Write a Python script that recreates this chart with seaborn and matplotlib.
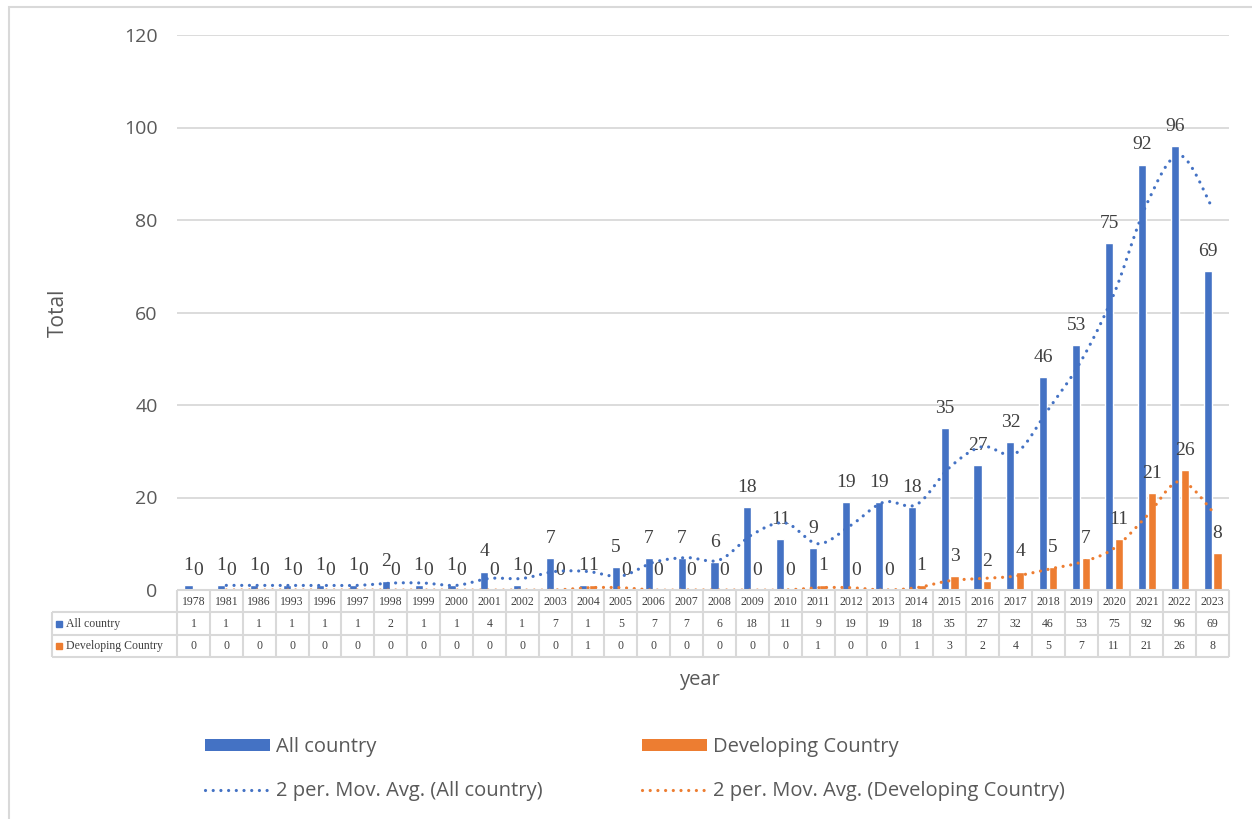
import numpy as np
import pandas as pd
import matplotlib
matplotlib.use("Agg")
import matplotlib.pyplot as plt
import seaborn as sns
from matplotlib.patches import Patch, Rectangle
from matplotlib.lines import Line2D

# ---- data -------------------------------------------------------------
years = ["1978", "1981", "1986", "1993", "1996", "1997", "1998", "1999",
         "2000", "2001", "2002", "2003", "2004", "2005", "2006", "2007",
         "2008", "2009", "2010", "2011", "2012", "2013", "2014", "2015",
         "2016", "2017", "2018", "2019", "2020", "2021", "2022", "2023"]
all_country = [1, 1, 1, 1, 1, 1, 2, 1, 1, 4, 1, 7, 1, 5, 7, 7,
               6, 18, 11, 9, 19, 19, 18, 35, 27, 32, 46, 53, 75, 92, 96, 69]
developing = [0, 0, 0, 0, 0, 0, 0, 0, 0, 0, 0, 0, 1, 0, 0, 0,
              0, 0, 0, 1, 0, 0, 1, 3, 2, 4, 5, 7, 11, 21, 26, 8]
series_names = ["All country", "Developing Country"]
y_ticks = [0, 20, 40, 60, 80, 100, 120]

BLUE = "#4472C4"
ORANGE = "#ED7D31"
GRID = "#D9D9D9"
TXT = "#595959"
LBL = "#404040"

W, H = 1252, 819

sns.set_theme(style="white")
plt.rcParams["font.family"] = ["Open Sans", "DejaVu Sans"]
SERIF = "Liberation Serif"

fig = plt.figure(figsize=(W / 100, H / 100), dpi=100)


def fx(px):
    return px / W


def fy(py):
    return 1 - py / H


# plot area in pixel terms
X0, X1, Y0, Y1 = 177, 1229, 35, 590
ax = fig.add_axes([fx(X0), fy(Y1), fx(X1 - X0), (Y1 - Y0) / H])

df = pd.DataFrame({
    "year": years * 2,
    "value": all_country + developing,
    "series": [series_names[0]] * len(years) + [series_names[1]] * len(years),
})

sns.barplot(data=df, x="year", y="value", hue="series", order=years,
            hue_order=series_names, palette=[BLUE, ORANGE], saturation=1,
            width=0.6, gap=0.18, legend=False, ax=ax, errorbar=None)

for cont in ax.containers:
    vals = [int(round(b.get_height())) for b in cont]
    ax.bar_label(cont, labels=[str(v) for v in vals], padding=8,
                 fontsize=14, family=SERIF, color=LBL)


# 2-period moving averages, drawn as smoothed curves
def moving_avg(v):
    v = np.asarray(v, dtype=float)
    return np.arange(1, len(v)), (v[1:] + v[:-1]) / 2


def catmull_rom(xs, ys, n=24):
    pts = np.column_stack([xs, ys])
    P = np.vstack([pts[0], pts, pts[-1]])
    out = []
    t = np.linspace(0, 1, n, endpoint=False)[:, None]
    for i in range(1, len(P) - 2):
        p0, p1, p2, p3 = P[i - 1], P[i], P[i + 1], P[i + 2]
        seg = 0.5 * ((2 * p1) + (-p0 + p2) * t
                     + (2 * p0 - 5 * p1 + 4 * p2 - p3) * t ** 2
                     + (-p0 + 3 * p1 - 3 * p2 + p3) * t ** 3)
        out.append(seg)
    out.append(P[-2][None])
    return np.vstack(out)


DOT = (0, (0.01, 2.4))
for vals, col in [(all_country, BLUE), (developing, ORANGE)]:
    mx, my = moving_avg(vals)
    curve = catmull_rom(mx, my)
    ax.plot(curve[:, 0], curve[:, 1], color=col, lw=2.3, linestyle=DOT,
            dash_capstyle="round", zorder=4)

ax.set_xlim(-0.5, len(years) - 0.5)
ax.set_ylim(0, 120)
ax.set_yticks(y_ticks)
ax.set_xticks([])
ax.set_xlabel("")
ax.set_ylabel("")
ax.yaxis.grid(True, color=GRID, lw=1.3)
ax.set_axisbelow(True)
for s in ax.spines.values():
    s.set_visible(False)
ax.tick_params(axis="y", length=0, pad=14, labelsize=14, labelcolor=TXT)

# ---- data table under the plot ---------------------------------------
TB = 657
tab = fig.add_axes([fx(X0), fy(TB), fx(X1 - X0), (TB - Y1) / H])
tab.set_xlim(-0.5, len(years) - 0.5)
tab.set_ylim(3, 0)
tab.axis("off")
cat_px = (X1 - X0) / len(years)
x_left = -0.5 - (X0 - 52) / cat_px

lk = dict(color=GRID, lw=1.5, clip_on=False, solid_capstyle="butt")
tab.plot([-0.5, len(years) - 0.5], [0, 0], **lk)
for r in (1, 2, 3):
    tab.plot([x_left, len(years) - 0.5], [r, r], **lk)
tab.plot([x_left, x_left], [1, 3], **lk)
for i in range(len(years) + 1):
    tab.plot([i - 0.5, i - 0.5], [0, 3], **lk)

tfont = dict(fontsize=8.5, family=SERIF, color=LBL, ha="center", va="center")
for i, yr in enumerate(years):
    tab.text(i, 0.52, yr, **tfont)
    tab.text(i, 1.52, str(all_country[i]), **tfont)
    tab.text(i, 2.52, str(developing[i]), **tfont)

for r, (name, col) in enumerate(zip(series_names, [BLUE, ORANGE])):
    tab.plot([x_left + 7 / cat_px], [r + 1.5], marker="s", ms=5, color=col,
             clip_on=False, ls="none")
    tab.text(x_left + 14 / cat_px, r + 1.52, name, fontsize=8.5, family=SERIF,
             color=LBL, ha="left", va="center")

# ---- axis titles ------------------------------------------------------
fig.text(fx(58), fy(313), "Total", rotation=90, fontsize=15, color=TXT,
         ha="center", va="center")
fig.text(fx(700), fy(680), "year", fontsize=14.5, color=TXT,
         ha="center", va="center")

# ---- legend -----------------------------------------------------------
handles = [
    Patch(facecolor=BLUE, edgecolor="none"),
    Line2D([], [], color=BLUE, lw=2.3, linestyle=DOT, dash_capstyle="round"),
    Patch(facecolor=ORANGE, edgecolor="none"),
    Line2D([], [], color=ORANGE, lw=2.3, linestyle=DOT, dash_capstyle="round"),
]
labels = ["All country", "2 per. Mov. Avg. (All country)",
          "Developing Country", "2 per. Mov. Avg. (Developing Country)"]
fig.legend(handles, labels, loc="upper left",
           bbox_to_anchor=(fx(205), fy(737)), ncol=2, frameon=False,
           fontsize=14.5, labelcolor=TXT, handlelength=3.23,
           handleheight=0.6, handletextpad=0.3, columnspacing=4.95,
           labelspacing=1.21, borderpad=0, borderaxespad=0)

# outer chart border
fig.add_artist(Rectangle((fx(9), -0.1), 1.2, fy(7) + 0.1,
                         transform=fig.transFigure, fill=False,
                         edgecolor=GRID, lw=1.5))

fig.savefig("out.png", dpi=100)
